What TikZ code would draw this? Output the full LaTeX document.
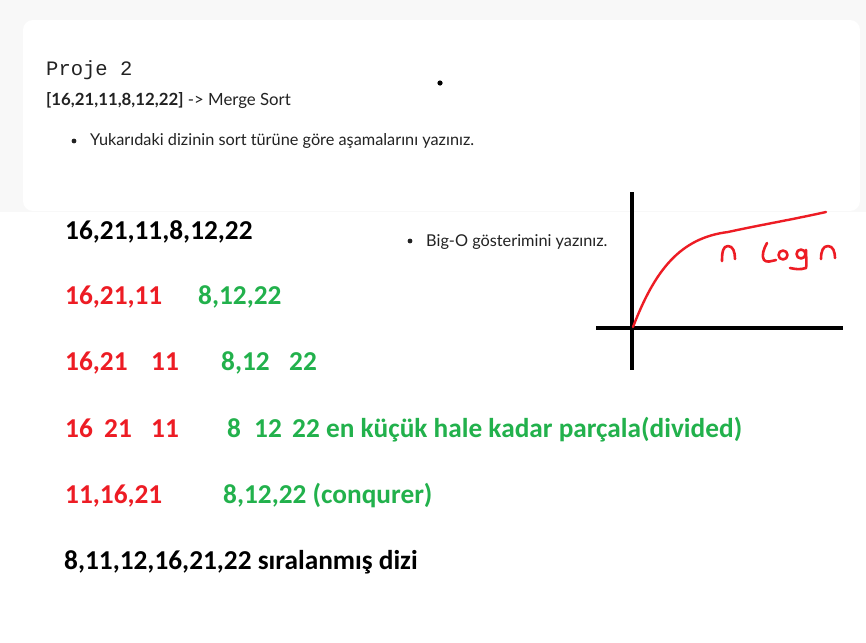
\documentclass[tikz,border=0pt]{standalone}
\usepackage{fontspec}
\newfontfamily\carlito{Carlito}
\newfontfamily\latof{Lato}
\newfontfamily\monof{Liberation Mono}
\definecolor{pred}{HTML}{ED1C24}
\definecolor{pgreen}{HTML}{22B14C}
\definecolor{bggray}{HTML}{F8F8F8}
\definecolor{txtgray}{HTML}{222222}
\begin{document}
\begin{tikzpicture}[x=1pt,y=-1pt,
  big/.style={anchor=base west, inner sep=0pt, font=\carlito\bfseries\fontsize{27.3}{27.3}\selectfont},
  redt/.style={big, text=pred},
  greent/.style={big, text=pgreen},
  blackt/.style={big, text=black},
  small/.style={anchor=base west, inner sep=0pt, text=txtgray, font=\latof\fontsize{16.3}{16.3}\selectfont},
  axis/.style={line width=4pt, black},
  hand/.style={pred, line width=2.6pt, line cap=round, line join=round}]
\useasboundingbox (0,0) rectangle (866,642);
\fill[white] (0,0) rectangle (866,642);
\fill[bggray] (0,0) rectangle (866,212);
\fill[white, rounded corners=10pt] (23,20) rectangle (860,211);
% header texts
\node[anchor=base west, inner sep=0pt, text=txtgray, font=\monof\fontsize{20.5}{20.5}\selectfont] (title) at (46,75) {Proje 2};
\node[small, font=\latof\fontsize{16.8}{16.8}\selectfont] (arr) at (46,105) {\textbf{[16,21,11,8,12,22]} -> Merge Sort};
\fill[txtgray] (74,141) circle (2.4);
\node[small] (task1) at (90,145) {Yukarıdaki dizinin sort türüne göre aşamalarını yazınız.};
\fill[black] (440,83) circle (2.6);
\fill[txtgray] (410,241) circle (2.4);
\node[small] (task2) at (426,246) {Big-O gösterimini yazınız.};
% rows
\node[blackt] (r1) at (65,239) {16,21,11,8,12,22};
\node[redt] (r2a) at (65,304) {16,21,11};
\node[greent] (r2b) at (198,304) {8,12,22};
\node[redt] (r3a) at (65,370) {16,21};
\node[redt] (r3b) at (151,370) {11};
\node[greent] (r3c) at (221,370) {8,12};
\node[greent] (r3d) at (289,370) {22};
\node[redt] (r4a) at (65,437) {16};
\node[redt] (r4b) at (104,437) {21};
\node[redt] (r4c) at (151,437) {11};
\node[greent] (r4d) at (227,437) {8};
\node[greent] (r4e) at (254,437) {12};
\node[greent] (r4f) at (292,437) {22 en küçük hale kadar parçala(divided)};
\node[redt] (r5a) at (65,503) {11,16,21};
\node[greent] (r5b) at (223,503) {8,12,22 (conqurer)};
\node[blackt] (r6) at (64,569) {8,11,12,16,21,22 sıralanmış dizi};
% graph
\coordinate (vtop) at (632,192);
\coordinate (vbot) at (632,370);
\coordinate (hl) at (596,328);
\coordinate (hr) at (843,328);
\draw[axis] (vtop) -- (vbot);
\draw[axis] (hl) -- (hr);
\coordinate (c0) at (633,327);
\coordinate (c1) at (728,232);
\coordinate (c2) at (826,212);
\draw[pred, line width=2.4pt, line cap=round] (c0) .. controls (655,270) and (680,238) .. (c1) .. controls (760,225) and (790,220) .. (c2);
% handwriting n Logn
\draw[hand] (722,261) .. controls (722,252) and (723,246) .. (728,246) .. controls (733,246) and (735,252) .. (735,259);
\draw[hand] (767,243) .. controls (764,248) and (761,256) .. (764,260) .. controls (767,263) and (771,261) .. (776,260);
\draw[hand] (783,255) circle (4.5);
\draw[hand] (801,254) circle (4.5);
\draw[hand] (806,250) .. controls (806,258) and (807,264) .. (806,268) .. controls (800,270) and (795,269) .. (790,268);
\draw[hand] (821,259) .. controls (821,251) and (823,246) .. (828,246) .. controls (833,246) and (835,252) .. (835,258);
\end{tikzpicture}
\end{document}
